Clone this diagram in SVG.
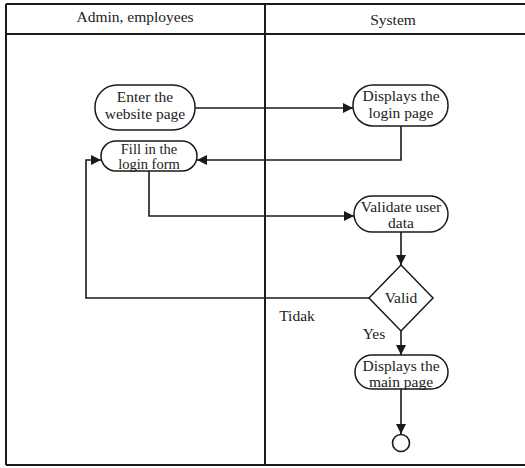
<svg xmlns="http://www.w3.org/2000/svg" width="525" height="468" viewBox="0 0 525 468">
<defs>
<style>
text{font-family:"Liberation Serif","Times New Roman","DejaVu Serif",Tinos,serif;font-size:15.5px;fill:#222;text-anchor:middle}
.s{font-size:14.5px}
.n{fill:#fff;stroke:#1a1a1a;stroke-width:1.5}
.c{fill:none;stroke:#1a1a1a;stroke-width:1.6}
.f{fill:none;stroke:#1a1a1a;stroke-width:2}
</style>
<marker id="a" viewBox="0 0 10 10" refX="10" refY="5" markerWidth="10" markerHeight="10" markerUnits="userSpaceOnUse" orient="auto">
<path d="M0,0 L10,5 L0,10 z" fill="#1a1a1a"/>
</marker>
</defs>
<rect width="525" height="468" fill="#fff"/>
<g id="frame">
<path class="f" d="M6,4 H525 M6,465 H525 M6,4 V465 M6,34 H525 M265,4 V465"/>
<text x="135" y="22">Admin, employees</text>
<text x="393" y="25">System</text>
</g>
<g id="connectors">
<path class="c" d="M195,108 H353" marker-end="url(#a)"/>
<path class="c" d="M401,126 V160 H197" marker-end="url(#a)"/>
<path class="c" d="M149,171 V216 H354" marker-end="url(#a)"/>
<path class="c" d="M401,232 V265" marker-end="url(#a)"/>
<path class="c" d="M369,298 H86 V160 H101" marker-end="url(#a)"/>
<path class="c" d="M401,331 V355" marker-end="url(#a)"/>
<path class="c" d="M401,389 V434" marker-end="url(#a)"/>
<text x="297" y="321">Tidak</text>
<text x="374" y="339">Yes</text>
</g>
<g id="enter">
<rect class="n" x="95" y="85" width="100" height="45" rx="22" ry="22"/>
<text x="145" y="102">Enter the</text>
<text x="145" y="119">website page</text>
</g>
<g id="fill">
<rect class="n" x="101" y="141" width="96" height="30" rx="15" ry="15"/>
<text class="s" x="149" y="154">Fill in the</text>
<text class="s" x="149" y="169">login form</text>
</g>
<g id="login">
<rect class="n" x="353" y="85" width="95" height="41" rx="20" ry="20"/>
<text x="401" y="101">Displays the</text>
<text x="401" y="118">login page</text>
</g>
<g id="validate">
<rect class="n" x="354" y="196" width="94" height="36" rx="18" ry="18"/>
<text x="401" y="212">Validate user</text>
<text x="401" y="228">data</text>
</g>
<g id="valid">
<polygon class="n" points="401,265 433,298 401,331 369,298"/>
<text x="401" y="303">Valid</text>
</g>
<g id="main">
<rect class="n" x="355" y="355" width="93" height="34" rx="17" ry="17"/>
<text x="401" y="371">Displays the</text>
<text x="401" y="387">main page</text>
</g>
<g id="end">
<circle cx="401" cy="443" r="8.5" fill="#fff" stroke="#1a1a1a" stroke-width="1.6"/>
</g>
</svg>
